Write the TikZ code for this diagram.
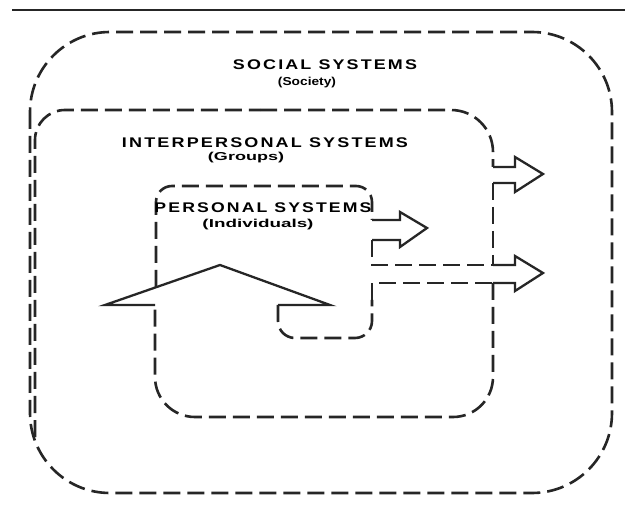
\documentclass[tikz,border=0pt]{standalone}
\usepackage{fontspec}
\setmainfont{Liberation Sans}
\usepackage{graphicx}
% stretch a label horizontally to a given width, keeping its height
\newcommand\widelabel[2]{\resizebox{#1}{\height}{#2}}

\begin{document}
\begin{tikzpicture}[x=1pt,y=-1pt,
  boundary/.style={draw=black!85, line width=2.6pt, dash pattern=on 17pt off 7pt},
  outlinearrow/.style={draw=black!85, line width=2.3pt, line join=miter},
  title/.style={inner sep=0pt, font={\bfseries\fontsize{14}{16}\selectfont\addfontfeature{LetterSpace=12}}},
  subtitle/.style={inner sep=0pt, font={\bfseries\fontsize{11.5}{13}\selectfont}}]

\useasboundingbox[fill=white] (0,0) rectangle (625,508);

% rule across the top
\draw[line width=2.4pt, black!85] (12,10) -- (625,10);

% social systems
\draw[boundary, rounded corners=80pt] (30,32) rectangle (612,493);

% interpersonal systems outline
\draw[boundary, rounded corners=30pt] (35,437) -- (35,110) -- (260,110);
\draw[boundary, rounded corners=42pt] (260,110) -- (493,110) -- (493,167);
\draw[boundary] (493,183) -- (493,265);
\draw[boundary, rounded corners=40pt] (493,283) -- (493,417) -- (155,417) -- (155,305);

% personal systems outline
\draw[boundary, rounded corners=16pt] (156,287) -- (156,186) -- (372,186) -- (372,220);
\draw[boundary] (372,240) -- (372,265) -- (493,265);
\draw[boundary, rounded corners=17pt] (278,305) -- (278,338) -- (372,338) -- (372,300);
\draw[boundary] (372,300) -- (372,283) -- (493,283);

% outline arrows
\draw[outlinearrow] (155,305) -- (105,305) -- (220,265) -- (330,305) -- (278,305);
\draw[outlinearrow] (372,220) -- (400,220) -- (400,212) -- (427,228) -- (400,247) -- (400,240) -- (372,240);
\draw[outlinearrow] (493,167) -- (515,167) -- (515,157) -- (543,174) -- (515,192) -- (515,183) -- (493,183);
\draw[outlinearrow] (493,265) -- (515,265) -- (515,256) -- (543,273) -- (515,291) -- (515,283) -- (493,283);

% labels
\node[title] (soc) at (325,65) {\widelabel{184pt}{SOCIAL SYSTEMS}};
\node[subtitle] (socsub) at (307,83) {\widelabel{58pt}{(Society)}};
\node[title] (ip) at (265,143) {\widelabel{286pt}{INTERPERSONAL SYSTEMS}};
\node[subtitle] (ipsub) at (246,158) {\widelabel{76pt}{(Groups)}};
\node[title] (pers) at (263,208) {\widelabel{217pt}{PERSONAL SYSTEMS}};
\node[subtitle] (perssub) at (258,225) {\widelabel{111pt}{(Individuals)}};

\end{tikzpicture}
\end{document}
